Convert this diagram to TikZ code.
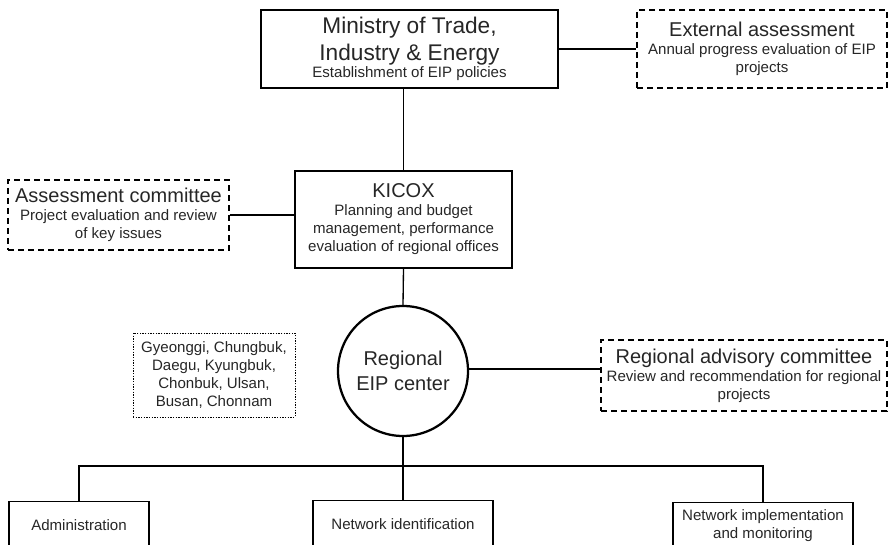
\documentclass[tikz,border=0pt]{standalone}
\usepackage{fontspec}
\setmainfont{Liberation Sans}
\usepackage{tikz}

\newcommand{\bigtxt}{\fontsize{15}{13.5}\selectfont}
\newcommand{\hugetxt}{\fontsize{17}{13.5}\selectfont}
\newcommand{\smalltxt}{\fontsize{11.3}{13.5}\selectfont\lineskiplimit=-100pt}

\tikzset{
    box/.style={draw, rectangle, align=center, inner sep=1pt, font=\smalltxt, line width=1pt, text=black!85},
    dashbox/.style={box, line width=0.9pt, dash pattern=on 4.5pt off 3pt},
    dotbox/.style={box, line width=0.7pt, dash pattern=on 1pt off 1pt},
    hub/.style={draw, circle, align=center, font=\bigtxt, line width=1.7pt, text=black!85},
    link/.style={line width=1pt}
}

\begin{document}
\begin{tikzpicture}[x=0.75pt,y=-0.75pt]
        \clip (0,0) rectangle (889,545);

        %top level
        \node[box, minimum width=222.75pt, minimum height=58.5pt] (ministry) at (409.5,49)
            {\hugetxt Ministry of Trade,\\[7pt] \hugetxt Industry \& Energy\\[-1pt] Establishment of EIP policies};
        \node[dashbox, minimum width=187.5pt, minimum height=58.5pt] (extern) at (762,49)
            {\bigtxt External assessment\\ Annual progress evaluation of EIP\\ projects};

        %middle level
        \node[box, minimum width=162.75pt, minimum height=72.75pt] (kicox) at (403.5,219.5)
            {\bigtxt KICOX\\ Planning and budget\\ management, performance\\ evaluation of regional offices};
        \node[dashbox, minimum width=165.75pt, minimum height=52.5pt] (assess) at (118.5,215)
            {\bigtxt Assessment committee\\ Project evaluation and review\\ of key issues};

        %regional level
        \node[hub, minimum size=97.5pt] (center) at (403,371)
            {Regional\\[5pt] EIP center};
        \node[dotbox, minimum width=121.5pt, minimum height=63pt] (cities) at (214,375)
            {Gyeonggi, Chungbuk,\\ Daegu, Kyungbuk,\\ Chonbuk, Ulsan,\\ Busan, Chonnam};
        \node[dashbox, minimum width=214.5pt, minimum height=53.25pt] (advisory) at (744,375.5)
            {\bigtxt Regional advisory committee\\ Review and recommendation for regional\\ projects};

        %bottom level
        \node[box, anchor=north, minimum width=105pt, minimum height=34.5pt] (admin) at (79,501) {Administration};
        \node[box, anchor=north, minimum width=135pt, minimum height=34.5pt] (netid) at (403,500) {Network identification};
        \node[box, anchor=north, minimum width=135pt, minimum height=34.5pt] (netimpl) at (763,502) {Network implementation\\ and monitoring};
        \coordinate (bus) at (403,466);

        %lines
        \path[link]
            (ministry.east) edge (extern.west)
            (kicox.north) edge (kicox.north |- ministry.south)
            (assess.east) edge (assess.east -| kicox.west)
            (kicox.south) edge (center.north)
            ([yshift=1.5pt]center.east) edge ([yshift=1.5pt]center.east -| advisory.west)
            (center.south) edge (netid.north);
        \draw[link] (admin.north) |- (bus) -| (netimpl.north);

\end{tikzpicture}
\end{document}
